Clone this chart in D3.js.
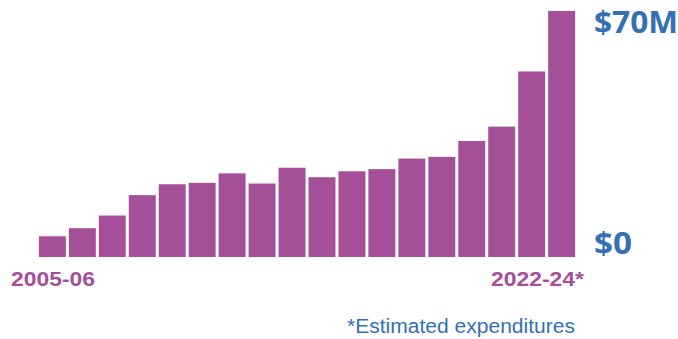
<!DOCTYPE html>
<html>
<head>
<meta charset="utf-8">
<script src="https://cdn.jsdelivr.net/npm/d3@7"></script>
<style>
  html, body { margin: 0; padding: 0; background: #fff; }
  svg { display: block; }
</style>
</head>
<body>
<svg id="chart"></svg>
<script>
// fiscal years, first and last labelled
const years = ['2005-06', '2006-07', '2007-08', '2008-09', '2009-10', '2010-11', '2011-12', '2012-13', '2013-14',
  '2014-15', '2015-16', '2016-17', '2017-18', '2018-19', '2019-20', '2020-21', '2021-22', '2022-24*'];
// expenditures, $M
const spending = [5.9, 8.2, 11.8, 17.6, 20.7, 21.1, 23.8, 20.9, 25.4, 22.7, 24.4, 25.0, 28.0, 28.5, 33.0, 37.1, 52.8, 70];
const axisTicks = [0, 70];
const footnote = '*Estimated expenditures';

const purple = '#a54f98',
  blue = '#3470b4';
const dim = { w: 678, h: 339, left: 38, right: 576, top: 11, bottom: 257 };

const $svg = d3.select('#chart')
  .attr('width', dim.w)
  .attr('height', dim.h);

const xScale = d3.scaleBand()
  .domain(years)
  .range([dim.left, dim.right])
  .paddingInner(0.1)
  .paddingOuter(0.03);
const yScale = d3.scaleLinear()
  .domain([0, 70])
  .range([dim.bottom, dim.top]);

$svg.append('g')
  .selectAll('rect')
  .data(spending)
  .enter()
  .append('rect')
  .attr('x', (d, i) => xScale(years[i]))
  .attr('y', (d) => yScale(d))
  .attr('width', xScale.bandwidth())
  .attr('height', (d) => yScale(0) - yScale(d))
  .attr('fill', purple);

// value labels on the right
$svg.append('g')
  .selectAll('text')
  .data(axisTicks)
  .enter()
  .append('text')
  .text((d) => d === 0 ? '$0' : '$' + d + 'M')
  .attr('x', 594)
  .attr('y', (d) => d === 0 ? yScale(d) - 3 : yScale(d) + 22)
  .attr('font-family', '"Open Sans", sans-serif')
  .attr('font-weight', 700)
  .attr('font-size', 31)
  .attr('textLength', (d) => d === 0 ? 38 : 84)
  .attr('lengthAdjust', 'spacingAndGlyphs')
  .attr('fill', blue);

// first and last year labels
$svg.append('text')
  .text(years[0])
  .attr('x', 11)
  .attr('y', 286)
  .attr('font-family', '"Liberation Sans", Arial, sans-serif')
  .attr('font-weight', 700)
  .attr('font-size', 21)
  .attr('textLength', 84)
  .attr('lengthAdjust', 'spacingAndGlyphs')
  .attr('fill', purple);

$svg.append('text')
  .text(years[years.length - 1])
  .attr('x', 584)
  .attr('y', 286)
  .attr('text-anchor', 'end')
  .attr('font-family', '"Liberation Sans", Arial, sans-serif')
  .attr('font-weight', 700)
  .attr('font-size', 21)
  .attr('textLength', 93)
  .attr('lengthAdjust', 'spacingAndGlyphs')
  .attr('fill', purple);

$svg.append('text')
  .text(footnote)
  .attr('x', 347)
  .attr('y', 333)
  .attr('font-family', '"Liberation Sans Narrow", "Liberation Sans", Arial, sans-serif')
  .attr('font-size', 20)
  .attr('textLength', 228)
  .attr('lengthAdjust', 'spacingAndGlyphs')
  .attr('fill', blue);
</script>
</body>
</html>
